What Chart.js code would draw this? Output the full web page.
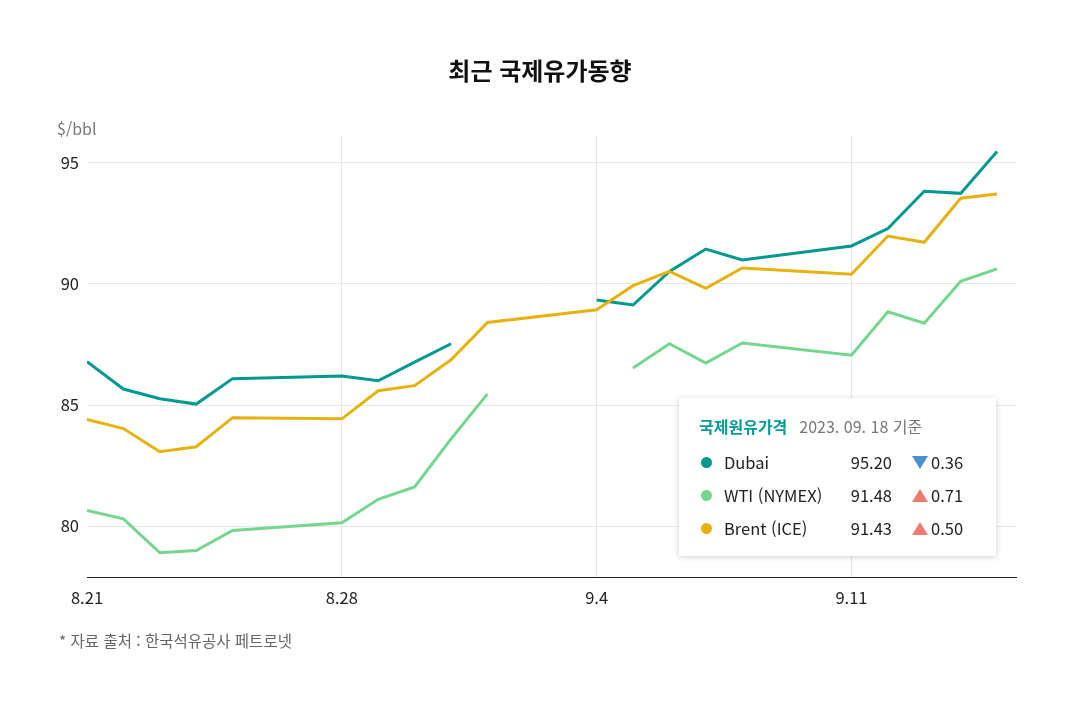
<!DOCTYPE html>
<html lang="ko">
<head>
<meta charset="utf-8">
<script src="https://cdn.jsdelivr.net/npm/chart.js"></script>
<style>
  html, body { margin: 0; padding: 0; background: #fff; }
  body { width: 1080px; height: 710px; position: relative; overflow: hidden;
         font-family: "Noto Sans CJK KR", "Noto Sans", sans-serif; color: #222; }
  #wrap { position: absolute; left: 0; top: 0; width: 1080px; height: 710px; }
  .title { position: absolute; left: 0; width: 1080px; top: 52px; text-align: center;
           font-size: 24px; font-weight: 700; color: #111; }
  .unit { position: absolute; left: 57px; top: 116px; font-size: 16px; color: #777; }
  .note { position: absolute; left: 59px; top: 629px; font-size: 15.5px; color: #666; }
  .box { position: absolute; left: 679px; top: 398px; width: 317px; height: 158px; background: #fff;
         box-shadow: 0 1px 6px rgba(0,0,0,0.18); }
  .box .hd { position: absolute; left: 20px; top: 16px; font-size: 16px; white-space: nowrap; }
  .box .hd b { color: #0a9a94; font-weight: 700; margin-right: 12px; }
  .box .hd span { color: #777; font-size: 16px; }
  .row { position: absolute; left: 0; width: 317px; height: 24px; font-size: 16.5px; color: #222; }
  .row .dot { position: absolute; left: 22px; top: 7px; width: 11px; height: 11px; border-radius: 50%; }
  .row .nm { position: absolute; left: 45px; top: 0; }
  .row .val { position: absolute; right: 104px; top: 0; }
  .row .tri { position: absolute; left: 233px; top: 6px; width: 0; height: 0; }
  .row .chg { position: absolute; left: 252px; top: 0; }
  .down { border-left: 8px solid transparent; border-right: 8px solid transparent; border-top: 13px solid #4a90d0; }
  .up { border-left: 8px solid transparent; border-right: 8px solid transparent; border-bottom: 13px solid #f07a6e; }
</style>
</head>
<body>
<div id="wrap"><canvas id="oilChart" width="1080" height="710"></canvas></div>
<div class="title">최근 국제유가동향</div>
<div class="unit">$/bbl</div>
<div class="note">* 자료 출처 : 한국석유공사 페트로넷</div>
<div class="box" id="legendBox">
  <div class="hd"><b>국제원유가격</b><span>2023. 09. 18 기준</span></div>
</div>
<script>
// trading days, as day offsets from 8.21
const dates = ['8.21','8.22','8.23','8.24','8.25','8.28','8.29','8.30','8.31','9.1',
               '9.4','9.5','9.6','9.7','9.8','9.11','9.12','9.13','9.14','9.15'];
const dayOffsets = [0,1,2,3,4,7,8,9,10,11,14,15,16,17,18,21,22,23,24,25];

const dubai = [86.79,85.66,85.26,85.04,86.09,86.20,86.00,86.77,87.53,null,
               89.34,89.13,90.52,91.44,90.99,91.57,92.29,93.83,93.74,95.47];
const wti   = [80.65,80.30,78.90,78.99,79.82,80.14,81.11,81.62,83.60,85.46,
               null,86.53,87.53,86.73,87.56,87.06,88.85,88.38,90.11,90.62];
const brent = [84.40,84.03,83.07,83.28,84.48,84.43,85.59,85.80,86.87,88.41,
               88.93,89.93,90.52,89.82,90.66,90.40,91.98,91.72,93.54,93.71];

const xTickDays = [0, 7, 14, 21];
const xTickLabels = ['8.21', '8.28', '9.4', '9.11'];
const yTicks = [80, 85, 90, 95];

// legend table values
const seriesNames = ['Dubai', 'WTI (NYMEX)', 'Brent (ICE)'];
const latestPrices = ['95.20', '91.48', '91.43'];
const changes = ['0.36', '0.71', '0.50'];
const changeDir = ['down', 'up', 'up'];
const colors = ['#00998f', '#74d68f', '#e6b20e'];

function toPoints(values) {
  return values.map((v, i) => ({ x: dayOffsets[i], y: v }));
}

// build legend rows
const box = document.getElementById('legendBox');
seriesNames.forEach((name, i) => {
  const row = document.createElement('div');
  row.className = 'row';
  row.style.top = (52 + i * 33) + 'px';
  row.innerHTML = '<div class="dot" style="background:' + colors[i] + '"></div>' +
    '<div class="nm">' + name + '</div>' +
    '<div class="val">' + latestPrices[i] + '</div>' +
    '<div class="tri ' + changeDir[i] + '"></div>' +
    '<div class="chg">' + changes[i] + '</div>';
  box.appendChild(row);
});

const tickFont = { family: '"Noto Sans CJK KR", sans-serif', size: 16.5 };

const ctx = document.getElementById('oilChart').getContext('2d');
new Chart(ctx, {
  type: 'line',
  data: {
    datasets: [
      { label: 'WTI (NYMEX)', data: toPoints(wti), borderColor: colors[1] },
      { label: 'Brent (ICE)', data: toPoints(brent), borderColor: colors[2] },
      { label: 'Dubai', data: toPoints(dubai), borderColor: colors[0] }
    ].map(ds => Object.assign(ds, {
      borderWidth: 3,
      pointRadius: 0,
      tension: 0,
      spanGaps: false,
      fill: false
    }))
  },
  options: {
    responsive: false,
    animation: false,
    layout: { padding: { left: 0, right: 64, top: 135, bottom: 0 } },
    plugins: {
      legend: { display: false },
      tooltip: { enabled: false }
    },
    scales: {
      x: {
        type: 'linear',
        min: 0,
        max: 25.52,
        afterBuildTicks: (scale) => { scale.ticks = xTickDays.map(v => ({ value: v })); },
        afterFit: (scale) => { scale.height = 133; },
        ticks: {
          padding: 11,
          color: '#222',
          font: tickFont,
          callback: (v) => xTickLabels[xTickDays.indexOf(v)]
        },
        grid: {
          drawTicks: false,
          color: (c) => (c.tick && c.tick.value === 0) ? 'rgba(0,0,0,0)' : '#e6e6e6'
        },
        border: { display: true, color: '#222', width: 1 }
      },
      y: {
        min: 77.9,
        max: 96.15,
        afterBuildTicks: (scale) => { scale.ticks = yTicks.map(v => ({ value: v })); },
        afterFit: (scale) => { scale.width = 87; },
        ticks: {
          padding: 8,
          color: '#222',
          font: tickFont
        },
        grid: { drawTicks: false, color: '#e6e6e6' },
        border: { display: false }
      }
    }
  }
});
</script>
</body>
</html>
